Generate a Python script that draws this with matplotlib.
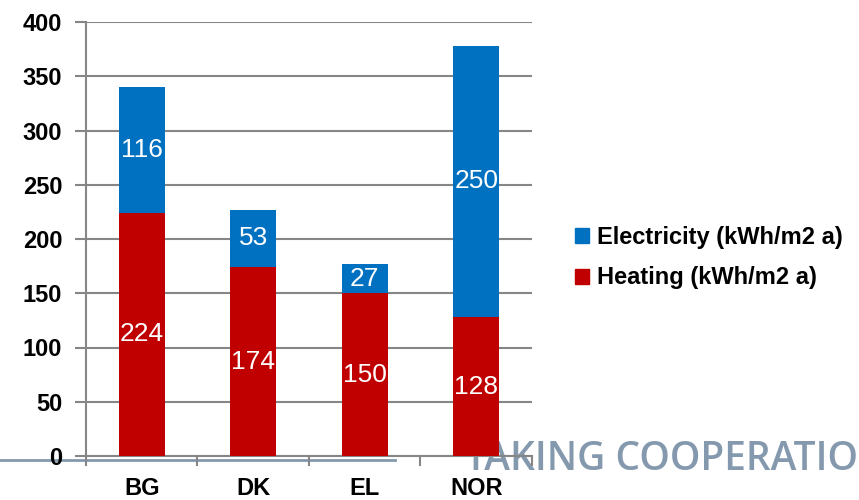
import matplotlib
matplotlib.use("Agg")
import matplotlib.pyplot as plt
from matplotlib.patches import Patch
from matplotlib.lines import Line2D

# ---- data ----
countries = ["BG", "DK", "EL", "NOR"]
heating = [224, 174, 150, 128]
electricity = [116, 53, 27, 250]

C_HEAT = "#C00000"
C_ELEC = "#0070C0"
GRID = "#868686"
FOOTER = "#8499AE"

plt.rcParams["font.family"] = ["Liberation Sans", "DejaVu Sans"]

fig = plt.figure(figsize=(8.59, 5.0), dpi=100)
ax = fig.add_axes([0.1001, 0.088, 0.5192, 0.868])
ax.patch.set_visible(False)

x = list(range(len(countries)))
w = 0.41
ax.bar(x, heating, width=w, color=C_HEAT, zorder=3)
ax.bar(x, electricity, width=w, bottom=heating, color=C_ELEC, zorder=3)

# value labels inside each segment
for i in x:
    ax.text(i, heating[i] / 2, str(heating[i]), ha="center", va="center",
            color="white", fontsize=19, zorder=4)
    ax.text(i, heating[i] + electricity[i] / 2, str(electricity[i]),
            ha="center", va="center", color="white", fontsize=19, zorder=4)

ax.set_xlim(-0.5, len(countries) - 0.5)
ax.set_ylim(0, 400)
ax.set_yticks(range(0, 401, 50))
ax.set_xticks(x)
ax.set_xticklabels(countries, fontsize=17, fontweight="bold")
ax.set_xticks([i - 0.5 for i in range(len(countries) + 1)], minor=True)
ax.tick_params(axis="x", which="major", length=0, pad=15)
ax.tick_params(axis="x", which="minor", length=7, width=1.5, color=GRID)
ax.tick_params(axis="y", length=8, width=1.5, color=GRID, pad=9,
               labelsize=17)
for lab in ax.get_yticklabels():
    lab.set_fontweight("bold")

ax.grid(True, axis="y", color=GRID, linewidth=1.5, zorder=1)
ax.set_axisbelow(True)
for s in ["top", "right"]:
    ax.spines[s].set_visible(False)
for s in ["left", "bottom"]:
    ax.spines[s].set_color(GRID)
    ax.spines[s].set_linewidth(1.5)

handles = [Patch(color=C_ELEC, label="Electricity (kWh/m2 a)"),
           Patch(color=C_HEAT, label="Heating (kWh/m2 a)")]
fig.legend(handles=handles, loc="center left", bbox_to_anchor=(0.645, 0.485),
           frameon=False, handlelength=0.6, handleheight=0.6,
           handletextpad=0.3, labelspacing=0.75,
           prop={"size": 17, "weight": "bold"})

# footer strip behind the chart
fig.add_artist(Line2D([0, 0.46], [0.081, 0.081], color=FOOTER,
                      linewidth=2, zorder=-2))
fig.text(0.541, 0.06, "TAKING COOPERATION", color=FOOTER, fontsize=28,
         family="Open Sans", weight="semibold", ha="left", va="baseline",
         zorder=-1)

fig.savefig("out.png", dpi=100)
